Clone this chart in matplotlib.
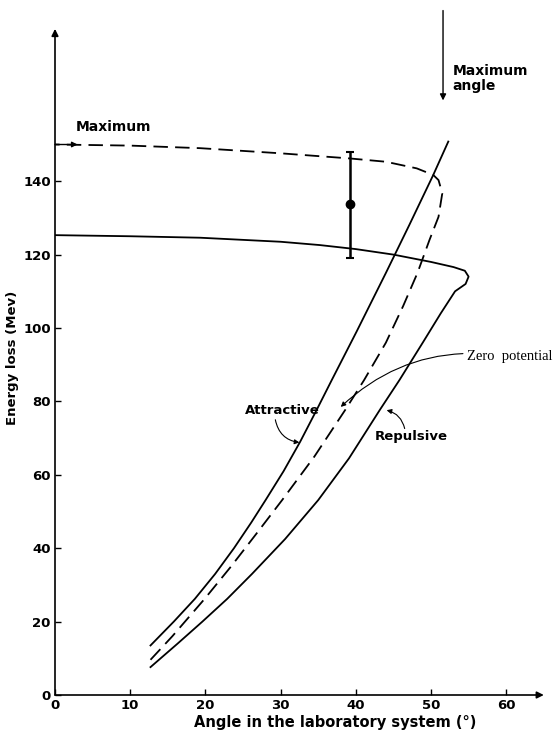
import matplotlib
matplotlib.use("Agg")
import matplotlib.pyplot as plt

# ---- data ----
attr_x = [12.7, 15.8, 18.6, 21.3, 23.8, 26.1, 28.0, 30.4, 32.6, 34.8, 36.8, 40.1, 44.0, 47.1, 50.3, 52.3]
attr_y = [13.5, 20, 26.2, 33, 40, 47, 53.1, 61, 69, 77.7, 85.8, 99, 115, 128, 141.7, 150.8]

zero_x = [12.7, 15.6, 19.9, 23.4, 26.8, 30.2, 34.5, 38.6, 41.1, 44.0, 46.3, 48.2, 49.8, 51.0, 51.5,
          51.0, 50.3, 48.1, 44, 39.2, 30, 19.3, 10, 0]
zero_y = [9.6, 16, 26.2, 35, 44, 53.1, 65, 77.7, 85.8, 96, 106, 115, 124, 130.3, 136.7,
          140.3, 141.7, 143.5, 145.3, 146.2, 147.6, 149, 149.7, 150]

rep_x = [0, 10, 19.3, 30, 35.2, 40, 45, 50, 53, 54.5, 55.0, 54.6, 53.2, 51.3, 48.9, 45.8,
         43.2, 39.1, 35.0, 30.6, 26.2, 22.9, 19.6, 16.3, 12.7]
rep_y = [125.3, 125, 124.6, 123.5, 122.6, 121.5, 120, 118, 116.6, 115.6, 114, 112, 110, 104,
         96, 85.8, 77.7, 64.5, 53.1, 42.5, 33, 26.2, 20, 14, 7.6]

err_x = 39.2
err_y = 133.8
err_lo = 119
err_hi = 148

xticks = [0, 10, 20, 30, 40, 50, 60]
yticks = [0, 20, 40, 60, 80, 100, 120, 140]

plt.rcParams['font.family'] = ['DejaVu Sans']

fig = plt.figure(figsize=(5.59, 7.31), dpi=100)
ax = fig.add_axes([55/559, 36/731, 67*7.52/559, 188*3.67/731])
ax.set_xlim(0, 67)
ax.set_ylim(0, 188)
for s in ax.spines.values():
    s.set_visible(False)

lw = 1.3
ax.plot(attr_x, attr_y, color='black', lw=lw)
ax.plot(rep_x, rep_y, color='black', lw=lw)
ax.plot(zero_x, zero_y, color='black', lw=lw, dashes=(8, 4))

# error bar
ax.errorbar([err_x], [err_y], yerr=[[err_y - err_lo], [err_hi - err_y]], fmt='o',
            color='black', ms=6, capsize=3, lw=1.8, capthick=1.5)

# axes with arrows
ax.annotate('', xy=(0, 181.5), xytext=(0, 0),
            arrowprops=dict(arrowstyle='-|>', color='black', lw=1.2, mutation_scale=10,
                            shrinkA=0, shrinkB=0), annotation_clip=False)
ax.annotate('', xy=(65.0, 0), xytext=(0, 0),
            arrowprops=dict(arrowstyle='-|>', color='black', lw=1.2, mutation_scale=10,
                            shrinkA=0, shrinkB=0), annotation_clip=False)

ax.set_xticks(xticks)
ax.set_yticks(yticks)
ax.set_xticklabels([str(v) for v in xticks])
ax.set_yticklabels([str(v) for v in yticks])
ax.tick_params(direction='in', length=4, width=1, pad=3, labelsize=9.5)
for lab in ax.get_xticklabels() + ax.get_yticklabels():
    lab.set_fontweight('bold')

# Maximum arrow (left)
ax.annotate('', xy=(3.0, 150), xytext=(0, 150),
            arrowprops=dict(arrowstyle='-|>', color='black', lw=1.0, mutation_scale=8,
                            shrinkA=0, shrinkB=0))
ax.text(2.7, 154.8, 'Maximum', fontsize=10, fontweight='bold', ha='left', va='center')

# Maximum angle arrow (top)
ax.annotate('', xy=(51.6, 162), xytext=(51.6, 186.5),
            arrowprops=dict(arrowstyle='-|>', color='black', lw=1.0, mutation_scale=9,
                            shrinkA=0, shrinkB=0), annotation_clip=False)
ax.text(52.9, 168, 'Maximum\nangle', fontsize=10, fontweight='bold', ha='left', va='center',
        linespacing=1.1)

# Zero potential
ax.annotate('Zero  potential', xy=(38.0, 78.5), xytext=(54.8, 92.1),
            fontsize=10.5, family='Liberation Serif', ha='left', va='center',
            arrowprops=dict(arrowstyle='-|>', color='black', lw=0.8, mutation_scale=7,
                            shrinkA=1, shrinkB=0, connectionstyle='arc3,rad=0.25'))

# Attractive
ax.text(30.2, 77.6, 'Attractive', fontsize=9.5, fontweight='bold', ha='center', va='center')
ax.annotate('', xy=(32.5, 68.8), xytext=(29.3, 75.0),
            arrowprops=dict(arrowstyle='-|>', color='black', lw=0.8, mutation_scale=7,
                            shrinkA=0, shrinkB=0, connectionstyle='arc3,rad=0.35'))

# Repulsive
ax.text(47.4, 70.3, 'Repulsive', fontsize=9.5, fontweight='bold', ha='center', va='center')
ax.annotate('', xy=(44.1, 77.6), xytext=(46.5, 72.6),
            arrowprops=dict(arrowstyle='-|>', color='black', lw=0.8, mutation_scale=7,
                            shrinkA=0, shrinkB=0, connectionstyle='arc3,rad=0.3'))

fig.text(335/559, 1 - 722/731, 'Angle in the laboratory system (°)', fontsize=10.5,
         fontweight='bold', ha='center', va='center')
fig.text(13/559, 1 - 358/731, 'Energy loss (Mev)', fontsize=9.5, fontweight='bold',
         ha='center', va='center', rotation=90)

fig.savefig('out.png', dpi=100)
